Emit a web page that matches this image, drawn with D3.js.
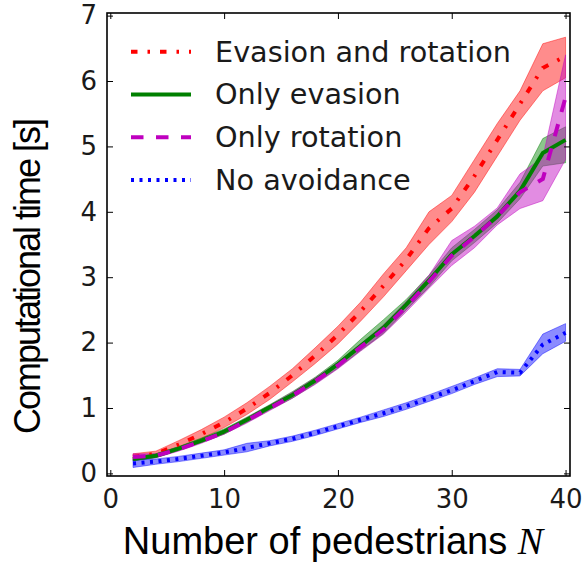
<!DOCTYPE html>
<html>
<head>
<meta charset="utf-8">
<script src="https://cdn.jsdelivr.net/npm/d3@7"></script>
<style>
  html, body { margin: 0; padding: 0; background: #fff; }
  svg { display: block; }
</style>
</head>
<body>
<svg id="chart" width="582" height="569"></svg>
<script>
// Number of pedestrians sampled
const pedestrians = [2, 4, 6, 8, 10, 12, 14, 16, 18, 20, 22, 24, 26, 28, 30, 32, 34, 36, 38, 40];

// Evasion and rotation: mean with lower / upper spread
const evRotMean = [0.25, 0.30, 0.44, 0.60, 0.78, 0.99, 1.23, 1.50, 1.80, 2.12, 2.48, 2.87, 3.27, 3.75, 4.05, 4.55, 5.10, 5.65, 6.20, 6.38];
const evRotLow  = [0.20, 0.25, 0.38, 0.53, 0.70, 0.90, 1.13, 1.40, 1.68, 1.98, 2.33, 2.70, 3.10, 3.50, 3.85, 4.30, 4.85, 5.40, 5.85, 6.05];
const evRotHigh = [0.30, 0.34, 0.50, 0.67, 0.86, 1.08, 1.33, 1.60, 1.92, 2.25, 2.62, 3.05, 3.45, 4.00, 4.25, 4.80, 5.35, 5.85, 6.57, 6.67];

// Only evasion
const evMean = [0.22, 0.27, 0.38, 0.50, 0.64, 0.82, 1.01, 1.20, 1.42, 1.67, 1.95, 2.23, 2.58, 2.95, 3.35, 3.63, 3.93, 4.32, 4.90, 5.10];
const evLow  = [0.19, 0.24, 0.35, 0.47, 0.60, 0.78, 0.97, 1.15, 1.37, 1.61, 1.88, 2.14, 2.50, 2.85, 3.25, 3.53, 3.83, 4.20, 4.70, 4.75];
const evHigh = [0.25, 0.30, 0.41, 0.54, 0.68, 0.86, 1.05, 1.25, 1.47, 1.73, 2.05, 2.35, 2.66, 3.03, 3.45, 3.73, 4.03, 4.45, 5.12, 5.30];

// Only rotation
const rotMean = [0.25, 0.27, 0.37, 0.49, 0.63, 0.81, 1.00, 1.19, 1.41, 1.65, 1.93, 2.20, 2.55, 2.93, 3.33, 3.62, 3.93, 4.30, 4.50, 5.75];
const rotLow  = [0.20, 0.24, 0.34, 0.46, 0.60, 0.77, 0.96, 1.15, 1.36, 1.60, 1.87, 2.13, 2.47, 2.83, 3.18, 3.45, 3.80, 4.05, 4.17, 4.80];
const rotHigh = [0.30, 0.30, 0.40, 0.52, 0.66, 0.85, 1.04, 1.24, 1.46, 1.70, 1.98, 2.27, 2.63, 3.03, 3.56, 3.78, 4.06, 4.58, 4.83, 6.40];

// No avoidance
const noneMean = [0.15, 0.18, 0.22, 0.27, 0.32, 0.39, 0.46, 0.53, 0.62, 0.72, 0.82, 0.92, 1.03, 1.15, 1.27, 1.41, 1.55, 1.54, 1.97, 2.15];
const noneLow  = [0.09, 0.14, 0.18, 0.23, 0.28, 0.33, 0.42, 0.49, 0.58, 0.68, 0.78, 0.87, 0.98, 1.10, 1.22, 1.36, 1.48, 1.49, 1.83, 2.02];
const noneHigh = [0.21, 0.22, 0.26, 0.31, 0.36, 0.46, 0.50, 0.57, 0.66, 0.76, 0.86, 0.97, 1.08, 1.20, 1.33, 1.46, 1.60, 1.59, 2.13, 2.29];

const seriesNames = ["Evasion and rotation", "Only evasion", "Only rotation", "No avoidance"];
const xTicks = [0, 10, 20, 30, 40];
const yTicks = [0, 1, 2, 3, 4, 5, 6, 7];

const series = [
  { name: seriesNames[0], mean: evRotMean, low: evRotLow, high: evRotHigh, color: "#ff0000", dash: "6.5,10,2.5,10" },
  { name: seriesNames[1], mean: evMean,    low: evLow,    high: evHigh,    color: "#008000", dash: null },
  { name: seriesNames[2], mean: rotMean,   low: rotLow,   high: rotHigh,   color: "#bf00bf", dash: "12.5,12.5" },
  { name: seriesNames[3], mean: noneMean,  low: noneLow,  high: noneHigh,  color: "#0000ff", dash: "3,5.5" }
];

const svg = d3.select("#chart");
const frame = { left: 107, right: 570, top: 13, bottom: 476 };

const x = d3.scaleLinear().domain([-0.29, 40.39]).range([frame.left, frame.right]);
const y = d3.scaleLinear().domain([-0.04, 7.04]).range([frame.bottom, frame.top]);

const clipId = "plot-clip";
svg.append("defs").append("clipPath").attr("id", clipId)
  .append("rect")
  .attr("x", frame.left).attr("y", frame.top)
  .attr("width", frame.right - frame.left).attr("height", frame.bottom - frame.top);

const plot = svg.append("g").attr("clip-path", `url(#${clipId})`);

// spread bands
const area = d3.area()
  .x((d, i) => x(pedestrians[i]))
  .y0(d => y(d[0]))
  .y1(d => y(d[1]));

series.forEach(s => {
  const pts = pedestrians.map((n, i) => [s.low[i], s.high[i]]);
  plot.append("path")
    .datum(pts)
    .attr("d", area)
    .attr("fill", s.color)
    .attr("fill-opacity", 0.45)
    .attr("stroke", s.color)
    .attr("stroke-opacity", 0.45)
    .attr("stroke-width", 1);
});

// mean lines
const line = d3.line()
  .x((d, i) => x(pedestrians[i]))
  .y(d => y(d));

series.forEach(s => {
  plot.append("path")
    .datum(s.mean)
    .attr("d", line)
    .attr("fill", "none")
    .attr("stroke", s.color)
    .attr("stroke-width", 4)
    .attr("stroke-dasharray", s.dash)
    .attr("stroke-linejoin", "round");
});

// axes: ticks point inward on every side
const tickLen = 6;
const axes = svg.append("g");

const bottomAxis = d3.axisBottom(x).tickValues(xTicks).tickSize(-tickLen).tickPadding(14).tickFormat(d3.format("d"));
const topAxis = d3.axisTop(x).tickValues(xTicks).tickSize(-tickLen).tickFormat("");
const leftAxis = d3.axisLeft(y).tickValues(yTicks).tickSize(-tickLen).tickPadding(10).tickFormat(d3.format("d"));
const rightAxis = d3.axisRight(y).tickValues(yTicks).tickSize(-tickLen).tickFormat("");

const gB = axes.append("g").attr("transform", `translate(0,${frame.bottom})`).call(bottomAxis);
const gT = axes.append("g").attr("transform", `translate(0,${frame.top})`).call(topAxis);
const gL = axes.append("g").attr("transform", `translate(${frame.left},0)`).call(leftAxis);
const gR = axes.append("g").attr("transform", `translate(${frame.right},0)`).call(rightAxis);

[gB, gT, gL, gR].forEach(g => {
  g.select(".domain").remove();
  g.selectAll(".tick line").attr("stroke", "#000").attr("stroke-width", 1);
  g.selectAll(".tick text")
    .attr("fill", "#1a1a1a")
    .style("font-family", "'DejaVu Sans', sans-serif")
    .style("font-size", "26px");
});

gB.selectAll(".tick text").attr("dy", "0.71em");

svg.append("rect")
  .attr("x", frame.left).attr("y", frame.top)
  .attr("width", frame.right - frame.left).attr("height", frame.bottom - frame.top)
  .attr("fill", "none")
  .attr("stroke", "#000")
  .attr("stroke-width", 1.6);

// axis titles
const xTitle = svg.append("text")
  .attr("x", 333).attr("y", 554)
  .attr("text-anchor", "middle")
  .attr("fill", "#000")
  .style("font-family", "'Liberation Sans', Arial, sans-serif")
  .style("font-size", "38px");
xTitle.append("tspan").text("Number of pedestrians ");
xTitle.append("tspan")
  .style("font-family", "'Liberation Serif', 'DejaVu Serif', serif")
  .style("font-style", "italic")
  .text("N");

svg.append("text")
  .attr("transform", "translate(40,277) rotate(-90)")
  .attr("text-anchor", "middle")
  .attr("fill", "#000")
  .style("font-family", "'Liberation Sans', Arial, sans-serif")
  .style("font-size", "36px")
  .style("letter-spacing", "-2px")
  .text("Computational time [s]");

// legend
const legend = svg.append("g");
const legendRowY = d3.scaleLinear().domain([0, 3]).range([51.7, 180]);
series.forEach((s, i) => {
  const ly = legendRowY(i);
  legend.append("line")
    .attr("x1", 131).attr("x2", 191)
    .attr("y1", ly).attr("y2", ly)
    .attr("stroke", s.color)
    .attr("stroke-width", 4)
    .attr("stroke-dasharray", s.dash);
  legend.append("text")
    .attr("x", 215).attr("y", ly + 10)
    .attr("fill", "#1a1a1a")
    .style("font-family", "'DejaVu Sans', sans-serif")
    .style("font-size", "28.7px")
    .text(s.name);
});
</script>
</body>
</html>
